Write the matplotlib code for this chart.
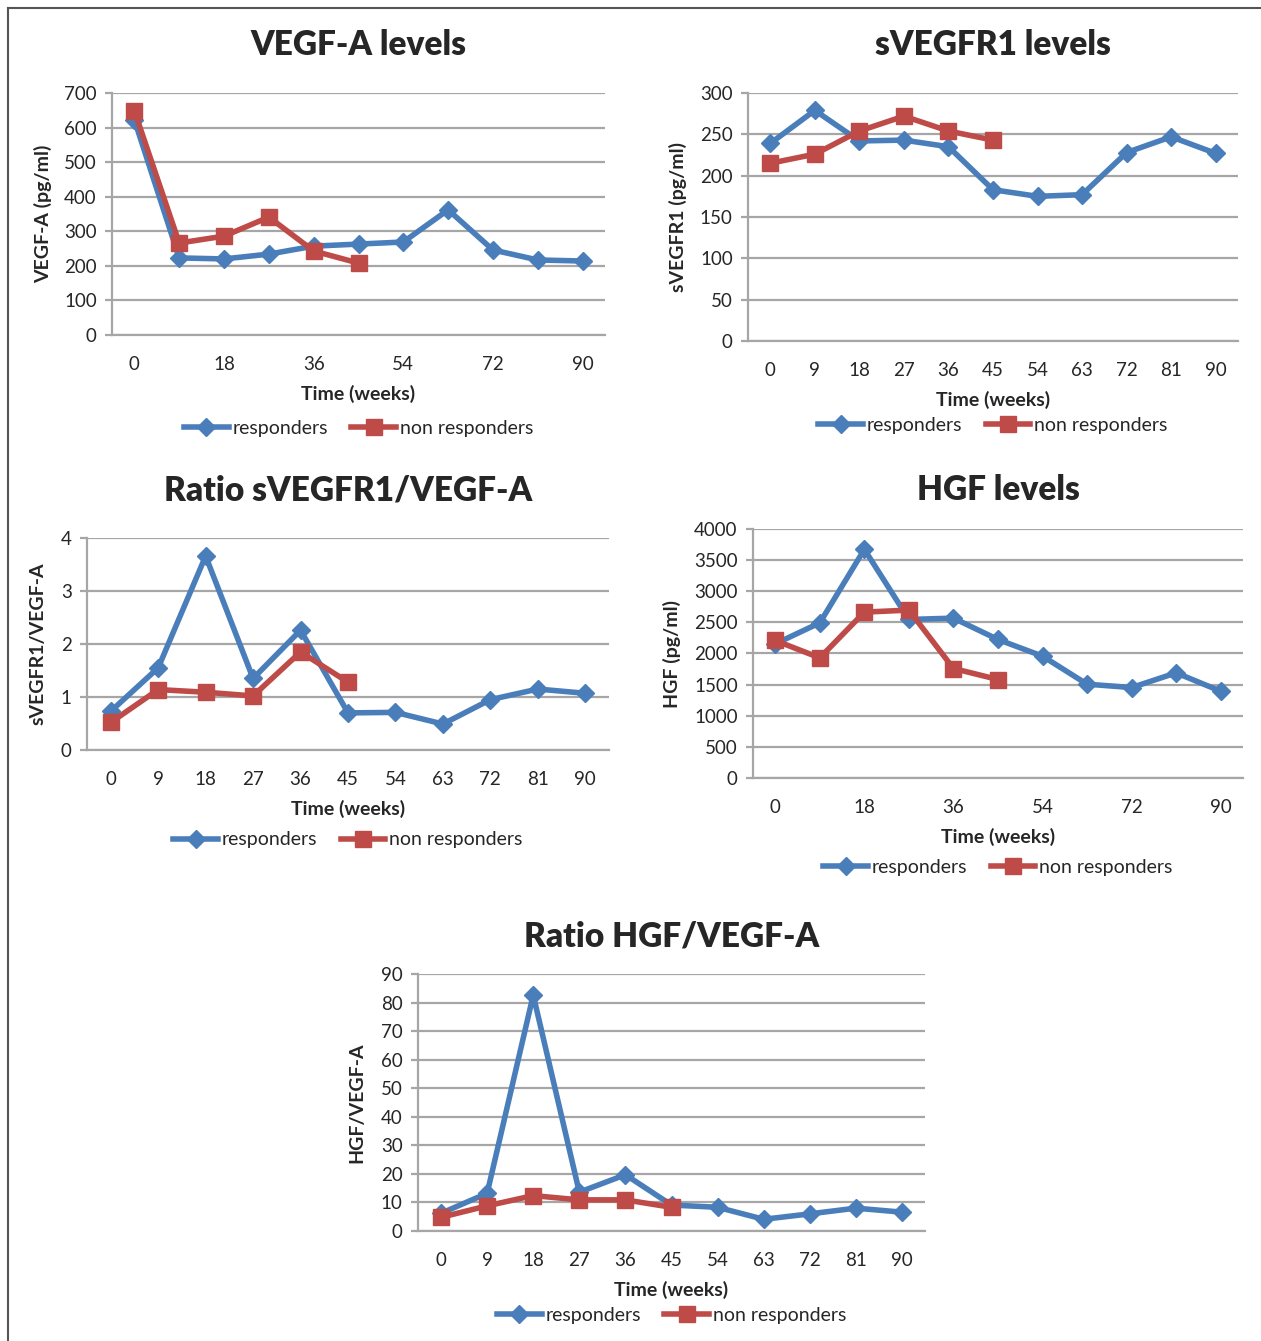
import matplotlib
matplotlib.use('Agg')
import matplotlib.pyplot as plt
from matplotlib.lines import Line2D

plt.rcParams['font.family'] = ['Lato', 'DejaVu Sans']

W, H = 1261, 1341

weeks = [0, 9, 18, 27, 36, 45, 54, 63, 72, 81, 90]
weeks_nr = [0, 9, 18, 27, 36, 45]

# VEGF-A levels
vegf_resp = [622, 223, 220, 234, 257, 263, 269, 362, 246, 217, 214]
vegf_nonresp = [648, 266, 286, 341, 243, 208]

# sVEGFR1 levels
svegfr1_resp = [239, 279, 242, 243, 235, 183, 175, 177, 228, 247, 227]
svegfr1_nonresp = [215, 226, 254, 272, 254, 243]

# ratio sVEGFR1/VEGF-A
ratio1_resp = [0.73, 1.55, 3.66, 1.35, 2.26, 0.70, 0.71, 0.49, 0.95, 1.15, 1.07]
ratio1_nonresp = [0.52, 1.14, 1.09, 1.02, 1.85, 1.28]

# HGF levels
hgf_resp = [2155, 2493, 3673, 2547, 2568, 2225, 1957, 1507, 1453, 1689, 1394]
hgf_nonresp = [2209, 1930, 2665, 2697, 1759, 1582]

# ratio HGF/VEGF-A
ratio2_resp = [6.2, 13.2, 82.6, 13.6, 19.7, 9.1, 8.3, 4.1, 6.0, 8.0, 6.6]
ratio2_nonresp = [4.8, 8.8, 12.4, 10.9, 10.9, 8.3]

blue = '#4a7ebb'
red = '#be4b48'
grid = '#a6a6a6'
txt = '#262626'

fig = plt.figure(figsize=(W / 100, H / 100), dpi=100)


def panel(box, title, ylabel, resp, nonresp, ymax, ystep, xticks, title_y,
          ylab_x, xlab_y, leg_y):
    left, right, top, bottom = box
    ax = fig.add_axes([left / W, 1 - bottom / H, (right - left) / W, (bottom - top) / H])
    ax.plot(weeks, resp, color=blue, lw=4, marker='D', ms=9, zorder=3)
    ax.plot(weeks_nr, nonresp, color=red, lw=4, marker='s', ms=11, zorder=4)
    ax.set_xlim(-4.5, 94.5)
    ax.set_ylim(0, ymax)
    yt = [ystep * i for i in range(int(round(ymax / ystep)) + 1)]
    ax.set_yticks(yt)
    ax.set_yticklabels([('%g' % v) for v in yt])
    ax.set_xticks(xticks)
    ax.set_xticklabels([str(v) for v in xticks])
    ax.grid(axis='y', color=grid, lw=1.6)
    ax.set_axisbelow(True)
    for s in ['top', 'right']:
        ax.spines[s].set_visible(False)
    ax.spines['left'].set_color(grid)
    ax.spines['left'].set_linewidth(1.6)
    ax.spines['bottom'].set_color(grid)
    ax.spines['bottom'].set_linewidth(1.6)
    ax.tick_params(axis='x', length=0, pad=15, labelsize=13.5, labelcolor=txt)
    ax.tick_params(axis='y', length=5, width=1.6, color=grid, pad=6,
                   labelsize=13.5, labelcolor=txt)
    cx = (left + right) / 2
    fig.text(cx / W, 1 - title_y / H, title, ha='center', va='center',
             fontsize=24, fontweight='heavy', color=txt)
    fig.text(ylab_x / W, 1 - (top + bottom) / 2 / H, ylabel, rotation=90,
             ha='center', va='center', fontsize=14, fontweight='bold', color=txt)
    fig.text(cx / W, 1 - xlab_y / H, 'Time (weeks)', ha='center', va='center',
             fontsize=14, fontweight='bold', color=txt)
    h1 = Line2D([], [], color=blue, lw=4, marker='D', ms=9)
    h2 = Line2D([], [], color=red, lw=4, marker='s', ms=11)
    leg = ax.legend([h1, h2], ['responders', 'non responders'], loc='center',
                    bbox_to_anchor=(cx / W, 1 - leg_y / H),
                    bbox_transform=fig.transFigure, ncol=2, frameon=False,
                    fontsize=14, handlelength=2.3, handletextpad=0.2,
                    columnspacing=1.2)
    for t in leg.get_texts():
        t.set_color(txt)
    return ax


panel((112, 605, 93, 335), 'VEGF-A levels', 'VEGF-A (pg/ml)', vegf_resp, vegf_nonresp,
      700, 100, [0, 18, 36, 54, 72, 90], 45, 43, 394, 428)
panel((748, 1238, 93, 341), 'sVEGFR1 levels', 'sVEGFR1 (pg/ml)', svegfr1_resp,
      svegfr1_nonresp, 300, 50, weeks, 45, 678, 400, 425)
panel((87, 609, 538, 750), 'Ratio sVEGFR1/VEGF-A', 'sVEGFR1/VEGF-A', ratio1_resp,
      ratio1_nonresp, 4, 1, weeks, 490, 38, 809, 840)
panel((753, 1243, 529, 778), 'HGF levels', 'HGF (pg/ml)', hgf_resp, hgf_nonresp,
      4000, 500, [0, 18, 36, 54, 72, 90], 490, 672, 837, 867)
panel((418, 925, 974, 1231), 'Ratio HGF/VEGF-A', 'HGF/VEGF-A', ratio2_resp,
      ratio2_nonresp, 90, 10, weeks, 936, 357, 1290, 1315)

# outer frame (top and left edges)
fig.add_artist(Line2D([8 / W, 1], [1 - 8 / H, 1 - 8 / H], color='#555555', lw=1.5))
fig.add_artist(Line2D([8 / W, 8 / W], [0, 1 - 8 / H], color='#555555', lw=1.5))

fig.savefig('out.png', dpi=100, facecolor='white')
